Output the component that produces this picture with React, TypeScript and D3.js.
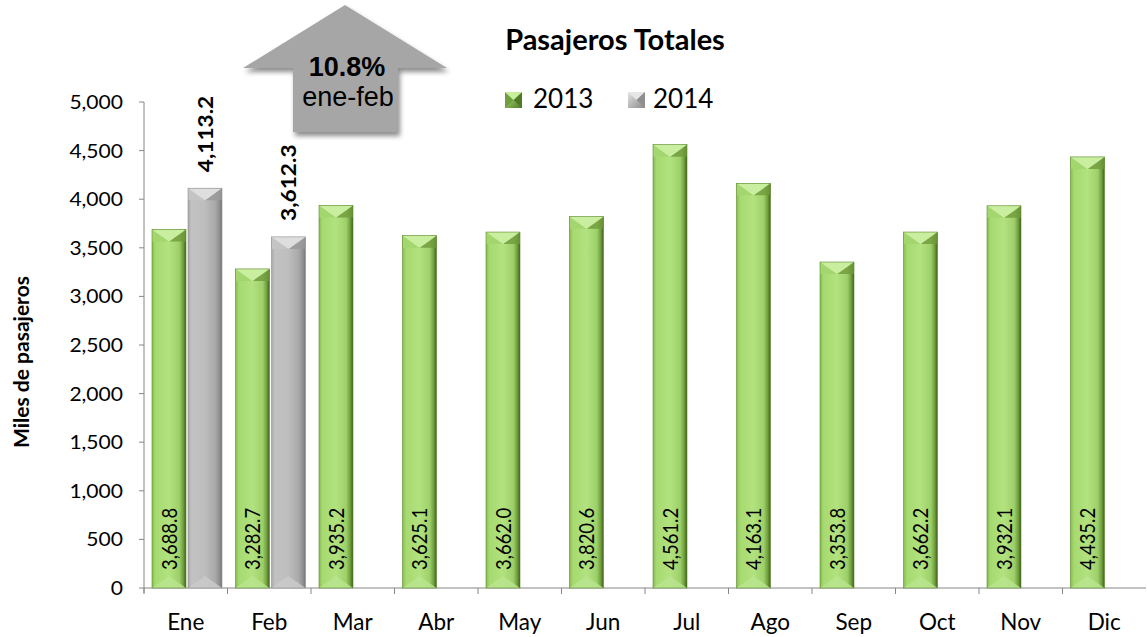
import React from "react";
import * as d3 from "d3";

const months = ["Ene", "Feb", "Mar", "Abr", "May", "Jun", "Jul", "Ago", "Sep", "Oct", "Nov", "Dic"];
const values2013 = [3688.8, 3282.7, 3935.2, 3625.1, 3662.0, 3820.6, 4561.2, 4163.1, 3353.8, 3662.2, 3932.1, 4435.2];
const values2014 = [4113.2, 3612.3];
const yTicks = [0, 500, 1000, 1500, 2000, 2500, 3000, 3500, 4000, 4500, 5000];
const seriesNames = ["2013", "2014"];
const title = "Pasajeros Totales";
const yTitle = "Miles de pasajeros";
const arrowPct = "10.8%";
const arrowSub = "ene-feb";

const W = 1147, H = 637;
const FONT = "Lato, 'Open Sans', sans-serif";
const ARIAL = "Arial, 'Liberation Sans', sans-serif";

const x = d3.scaleBand<string>().domain(months).range([144, 1146]).paddingInner(0).paddingOuter(0);
const y = d3.scaleLinear().domain([0, 5000]).range([588, 102]);
const fmt = d3.format(",.1f");
const fmtTick = d3.format(",");

function Bar({ x0, w, v, kind }: { x0: number; w: number; v: number; kind: "g" | "s" }) {
  const top = y(v), bot = y(0);
  const h = bot - top;
  const bev = 12;
  const grad = kind === "g" ? "url(#gGreen)" : "url(#gGray)";
  const capMid = kind === "g" ? "#c9ee9f" : "#dedede";
  const capSide = kind === "g" ? "#a3d66e" : "#c4c4c4";
  const capR = kind === "g" ? "#6f9a3c" : "#9a9a9a";
  const botCol = kind === "g" ? "#b9e48e" : "#cacaca";
  return (
    <g>
      <rect x={x0} y={top} width={w} height={h} fill={grad} />
      <polygon points={`${x0},${top} ${x0 + w / 2},${top + bev} ${x0},${top + bev}`} fill={capSide} />
      <polygon points={`${x0 + w},${top} ${x0 + w / 2},${top + bev} ${x0 + w},${top + bev}`} fill={capR} opacity={0.8} />
      <polygon points={`${x0},${top} ${x0 + w},${top} ${x0 + w / 2},${top + bev}`} fill={capMid} />
      <polygon points={`${x0},${bot} ${x0 + w},${bot} ${x0 + w / 2},${bot - bev}`} fill={botCol} opacity={0.85} />
      <rect x={x0} y={top} width={w} height={h} fill="none" stroke={kind === "g" ? "#5d8a2c" : "#8f8f8f"} strokeWidth={0.6} />
    </g>
  );
}

export default function App() {
  const band = x.bandwidth();
  const bw = 34;
  const off = 8;
  return (
    <svg width={W} height={H} style={{ position: "absolute", left: 0, top: 0, background: "#fff" }} fontFamily={FONT}>
      <defs>
        <linearGradient id="gGreen" x1="0" x2="1" y1="0" y2="0">
          <stop offset="0" stopColor="#86bb50" />
          <stop offset="0.1" stopColor="#a6da70" />
          <stop offset="0.5" stopColor="#b2e27f" />
          <stop offset="0.8" stopColor="#9ed06a" />
          <stop offset="0.92" stopColor="#6f9e3c" />
          <stop offset="1" stopColor="#3d5c1c" />
        </linearGradient>
        <linearGradient id="gGray" x1="0" x2="1" y1="0" y2="0">
          <stop offset="0" stopColor="#a8a8a8" />
          <stop offset="0.1" stopColor="#c2c2c2" />
          <stop offset="0.5" stopColor="#bdbdbd" />
          <stop offset="0.8" stopColor="#a9a9a9" />
          <stop offset="0.93" stopColor="#8e8e8e" />
          <stop offset="1" stopColor="#747474" />
        </linearGradient>
        <linearGradient id="gLegG" x1="0" x2="1" y1="0" y2="1">
          <stop offset="0" stopColor="#b8e68a" />
          <stop offset="1" stopColor="#4f7a24" />
        </linearGradient>
        <linearGradient id="gLegS" x1="0" x2="1" y1="0" y2="1">
          <stop offset="0" stopColor="#e4e4e4" />
          <stop offset="1" stopColor="#8a8a8a" />
        </linearGradient>
        <filter id="shadow" x="-20%" y="-20%" width="150%" height="150%">
          <feGaussianBlur in="SourceAlpha" stdDeviation="2.5" />
          <feOffset dx="2" dy="4" result="b" />
          <feComponentTransfer><feFuncA type="linear" slope="0.45" /></feComponentTransfer>
          <feMerge><feMergeNode /><feMergeNode in="SourceGraphic" /></feMerge>
        </filter>
      </defs>

      {/* Y axis */}
      <line x1={144} x2={144} y1={y(5000)} y2={y(0) + 5} stroke="#868686" strokeWidth={1} />
      {yTicks.map((t) => (
        <g key={t}>
          <line x1={139} x2={144} y1={y(t)} y2={y(t)} stroke="#868686" />
          <text transform={`translate(123,${y(t)}) scale(1.08,1)`} dy="0.36em" textAnchor="end" fontSize={19.5} fill="#000">{fmtTick(t)}</text>
        </g>
      ))}
      <text transform={`translate(29,362) rotate(-90) scale(1.05,1)`} textAnchor="middle" fontSize={20} fontWeight="bold">{yTitle}</text>

      {/* X axis */}
      <line x1={144} x2={1146} y1={y(0)} y2={y(0)} stroke="#868686" />
      {months.map((m) => (
        <g key={m}>
          <line x1={x(m)!} x2={x(m)!} y1={y(0)} y2={y(0) + 6} stroke="#868686" />
          <text x={x(m)! + band / 2} y={630} textAnchor="middle" fontSize={22.5}>{m}</text>
        </g>
      ))}

      {/* Bars 2013 */}
      {values2013.map((v, i) => {
        const x0 = x(months[i])! + off;
        return (
          <g key={"a" + i}>
            <Bar x0={x0} w={bw} v={v} kind="g" />
            <text transform={`translate(${x0 + bw / 2},570) rotate(-90) scale(0.86,1)`} dy="0.36em" fontSize={21.5} textAnchor="start">{fmt(v)}</text>
          </g>
        );
      })}
      {/* Bars 2014 */}
      {values2014.map((v, i) => {
        const x0 = x(months[i])! + off + bw + 2;
        return (
          <g key={"b" + i}>
            <Bar x0={x0} w={bw} v={v} kind="s" />
            <text transform={`translate(${x0 + bw / 2},${y(v) - 16}) rotate(-90) scale(1.08,1)`} dy="0.36em" fontSize={21} fontWeight="bold" textAnchor="start">{fmt(v)}</text>
          </g>
        );
      })}

      {/* Arrow */}
      <polygon points="345,5 447,68 398,68 398,132 293,132 293,68 243,68" fill="#a6a6a6" filter="url(#shadow)" />
      <text x={347} y={76} textAnchor="middle" fontSize={27} fontWeight="bold" fontFamily={ARIAL}>{arrowPct}</text>
      <text x={348} y={106} textAnchor="middle" fontSize={27} fontFamily={ARIAL}>{arrowSub}</text>

      {/* Title & legend */}
      <text x={615} y={50} textAnchor="middle" fontSize={29} fontWeight="bold">{title}</text>
      <rect x={505} y={92} width={17} height={16} fill="url(#gLegG)" />
      <polygon points="505,92 513.5,100 505,108" fill="#6f9e3c" />
      <polygon points="522,92 513.5,100 522,108" fill="#4f7a24" />
      <polygon points="505,92 522,92 513.5,100" fill="#c9ee9f" />
      <text x={533} y={108} fontSize={26}>{seriesNames[0]}</text>
      <rect x={628} y={92} width={17} height={16} fill="url(#gLegS)" />
      <polygon points="628,92 645,92 636.5,100" fill="#e6e6e6" />
      <polygon points="645,92 636.5,100 645,108" fill="#8f8f8f" />
      <text x={653} y={108} fontSize={26}>{seriesNames[1]}</text>
    </svg>
  );
}
